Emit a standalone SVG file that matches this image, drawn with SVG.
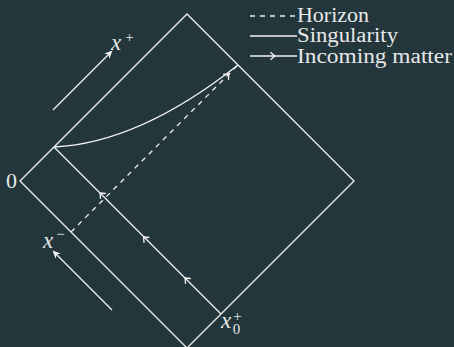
<svg xmlns="http://www.w3.org/2000/svg" width="454" height="347" viewBox="0 0 454 347">
<style>
.ln{fill:none;stroke:#f2f2f2;stroke-width:1.3;stroke-linecap:butt}
.dash{stroke-dasharray:5 5}
.chev{fill:none;stroke:#f2f2f2;stroke-width:1.3;stroke-linejoin:round}
.head{fill:#f2f2f2;stroke:none}
text{fill:#e8e8e8}
</style>
<defs>
<path id="chev" d="M-4.5,-3.8 Q-1.5,-1 0,0 Q-1.5,1 -4.5,3.8" class="chev"/>
<path id="head" d="M0,0 L-8,-3.6 L-5.8,0 L-8,3.6 Z" class="head"/>
</defs>
<rect width="454" height="347" fill="#22363b"/>
<g id="connectors">
<path class="ln" d="M20,181 L187,14 L354,181 L187,348 Z"/>
<path class="ln" d="M54,147 L221,314"/>
<path class="ln" d="M54,147 Q139,143 238,65"/>
<path class="ln dash" d="M71,232 L238,65"/>
<use href="#chev" transform="translate(100,193) rotate(225)"/>
<use href="#chev" transform="translate(143.5,237) rotate(225)"/>
<use href="#chev" transform="translate(185,278) rotate(225)"/>
<use href="#chev" transform="translate(229,74) rotate(-45)"/>
<path class="ln" d="M53,110 L111,52"/>
<use href="#head" transform="translate(112.5,50.5) rotate(-45)"/>
<path class="ln" d="M112,310 L54,252"/>
<use href="#head" transform="translate(52.5,250.5) rotate(225)"/>
</g>
<g id="legend" font-family="'Liberation Serif', 'DejaVu Serif', serif">
<path class="ln dash" d="M250,16 L297,16"/>
<path class="ln" d="M250,36 L297,36"/>
<path class="ln" d="M250,56 L297,56"/>
<use href="#chev" transform="translate(275,56)"/>
<text x="297" y="22" font-size="20" textLength="72" lengthAdjust="spacingAndGlyphs">Horizon</text>
<text x="297" y="42" font-size="20" textLength="101" lengthAdjust="spacingAndGlyphs">Singularity</text>
<text x="297" y="62.5" font-size="20" textLength="155" lengthAdjust="spacingAndGlyphs">Incoming matter</text>
</g>
<g id="labels" font-family="'Liberation Serif', 'DejaVu Serif', serif">
<text x="6" y="188" font-size="22">0</text>
<text x="111" y="50" font-size="23" font-style="italic">x<tspan font-style="normal" font-size="15" dx="4" dy="-8">+</tspan></text>
<text x="43" y="248" font-size="23" font-style="italic">x<tspan font-style="normal" font-size="15" dx="3" dy="-9">−</tspan></text>
<text x="221" y="328" font-size="23" font-style="italic">x<tspan font-style="normal" font-size="15" dx="2" dy="-7">+</tspan><tspan font-style="normal" font-size="15" dx="-9" dy="13">0</tspan></text>
</g>
</svg>
